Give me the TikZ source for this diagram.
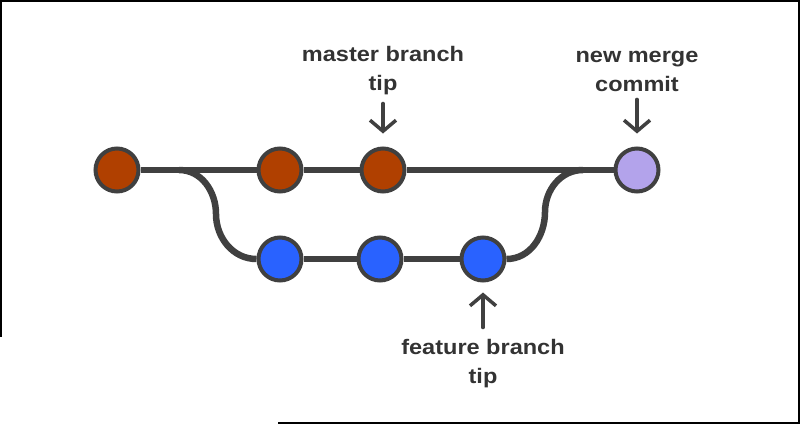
\documentclass[tikz,border=0pt]{standalone}
\usepackage{fontspec}
\newfontfamily\lblfont[FakeStretch=1.12]{Liberation Sans}
\usetikzlibrary{arrows.meta}
\definecolor{gitMaster}{HTML}{B04000}
\definecolor{gitFeature}{HTML}{2962FF}
\definecolor{gitMerge}{HTML}{B3A3EB}
\definecolor{gitLine}{HTML}{404040}
\definecolor{gitText}{HTML}{333333}

\begin{document}
\begin{tikzpicture}[x=1pt, y=-1pt,
  commitnode/.style={draw=gitLine, circle, line width=4pt, minimum size=43pt, inner sep=0pt},
  br/.style={draw=gitLine, line width=6.5pt},
  lbl/.style={font=\lblfont\bfseries\fontsize{21}{29}\selectfont, text=gitText, align=center, inner sep=0pt},
  ptr/.style={-{Straight Barb[length=11pt,width=26pt]}, line width=3.5pt, draw=gitLine, line cap=round}
]
\useasboundingbox (0,0) rectangle (800,424);

% frame
\draw[line width=2pt] (0,1) -- (800,1);
\draw[line width=2pt] (1,0) -- (1,337);
\draw[line width=2pt] (799,0) -- (799,424);
\draw[line width=2pt] (278,423) -- (800,423);

% commits
\node[commitnode, fill=gitMaster] (c1) at (117,170) {};
\node[commitnode, fill=gitMaster] (c2) at (280,170) {};
\node[commitnode, fill=gitMaster] (c3) at (383,170) {};
\node[commitnode, fill=gitMerge] (m) at (637,170) {};
\node[commitnode, fill=gitFeature] (f1) at (280,259) {};
\node[commitnode, fill=gitFeature] (f2) at (380,259) {};
\node[commitnode, fill=gitFeature] (f3) at (483,259) {};

\coordinate (fork) at (179,170);
\coordinate (forkdown) at (216,214);
\coordinate (joinup) at (545,212);
\coordinate (join) at (583,170);

\draw[br] (c1) -- (c2);
\draw[br] (c2) -- (c3);
\draw[br] (c3) -- (m);
\draw[br] (fork) to[out=0,in=90] (forkdown) to[out=-90,in=180] (f1);
\draw[br] (f1) -- (f2);
\draw[br] (f2) -- (f3);
\draw[br] (f3) to[out=0,in=-90] (joinup) to[out=90,in=180] (join);

% labels
\node[lbl] (mastertxt) at (383,71) {master branch\\tip};
\node[lbl] (mergetxt) at (637,71) {new merge\\commit};
\node[lbl] (featuretxt) at (483,364) {feature branch\\tip};

\draw[ptr, shorten <=8pt, shorten >=13pt] (mastertxt) -- (c3);
\draw[ptr, shorten <=8pt, shorten >=13pt] (mergetxt) -- (m);
\draw[ptr, shorten <=12pt, shorten >=10pt] (featuretxt) -- (f3);
\end{tikzpicture}
\end{document}
